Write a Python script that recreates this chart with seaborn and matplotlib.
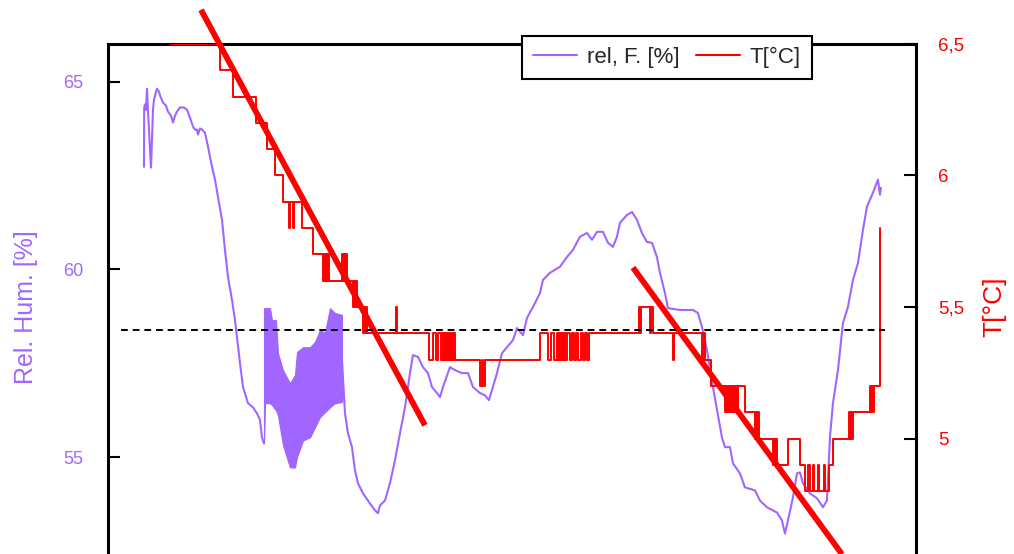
import matplotlib
matplotlib.use("Agg")
import matplotlib.pyplot as plt
from matplotlib.lines import Line2D
import seaborn as sns

# ---------------- data ----------------
# relative humidity (time in h, % RH), first stretch
hum_t_a = [3.6, 3.62, 3.7, 3.8, 3.9, 4.0, 4.1, 4.2, 4.3, 4.4, 4.5, 4.6, 4.8, 4.9,
           5.1, 5.2, 5.5, 5.8, 6.0, 6.3, 6.5, 6.7, 6.9, 7.2, 7.6, 7.9, 8.2, 8.5,
           8.7, 8.9, 9.0, 9.2, 9.4, 9.7, 10.0, 10.4, 10.7, 11.0, 11.4, 11.7, 12.0,
           12.4, 12.7, 12.9, 13.2, 13.5, 14.0, 14.5, 14.9, 15.2, 15.4, 15.6]
hum_a = [62.73, 64.31, 64.39, 64.25, 64.81, 64.2, 63.72, 63.19, 62.71, 63.45, 64.25,
         64.52, 64.73, 64.81, 64.73, 64.63, 64.44, 64.36, 64.2, 64.09, 63.91, 64.09,
         64.2, 64.31, 64.31, 64.25, 64.04, 63.8, 63.72, 63.72, 63.59, 63.75, 63.72,
         63.64, 63.27, 62.73, 62.39, 61.93, 61.32, 60.52, 59.8, 59.19, 58.65, 58.2,
         57.51, 56.87, 56.44, 56.33, 56.17, 55.99, 55.53, 55.37]

# rapidly oscillating stretch: min / max envelope
band_t = [15.6, 15.7, 16.2, 16.4, 16.8, 17.0, 17.5, 18.2, 18.7, 18.9, 19.5, 20.2,
          20.7, 21.2, 21.7, 22.2, 22.7, 23.4]
band_hi = [58.97, 58.97, 58.97, 58.65, 58.65, 57.77, 57.32, 56.97, 57.19, 57.8, 57.93,
           57.93, 58.07, 58.39, 58.31, 58.97, 58.84, 58.79]
band_lo = [55.37, 56.44, 56.44, 56.39, 56.25, 56.12, 55.32, 54.73, 54.73, 55.0, 55.45,
           55.53, 55.8, 56.07, 56.2, 56.33, 56.44, 56.47]

# relative humidity, second stretch
hum_t_b = [23.4, 23.7, 24.0, 24.4, 24.7, 25.0, 25.5, 26.2, 26.7, 27.0, 27.2, 27.7,
           28.2, 28.7, 29.2, 29.7, 30.2, 30.5, 31.0, 31.5, 32.0, 32.4, 32.9, 33.2,
           33.5, 34.2, 34.7, 35.4, 36.0, 36.5, 37.2, 37.7, 38.1, 38.4, 38.9, 39.4,
           39.9, 40.5, 40.9, 41.5, 41.9, 42.5, 43.2, 43.5, 44.2, 45.2, 45.9, 46.5,
           47.2, 47.9, 48.4, 48.9, 49.5, 50.0, 50.5, 50.9, 51.2, 51.9, 52.4, 52.9,
           53.4, 53.9, 54.4, 54.9, 55.2, 55.7, 56.0, 57.2, 58.5, 59.0, 59.4, 59.9,
           60.5, 61.0, 61.4, 61.7, 62.2, 62.5, 63.2, 63.7, 64.7, 65.2, 65.9, 66.9,
           67.4, 67.7, 68.0, 68.5, 68.9, 69.2, 69.5, 70.2, 70.9, 71.5, 71.9, 72.2,
           72.5, 73.0, 73.5, 74.0, 74.5, 75.0, 75.5, 75.9, 76.5, 77.0, 77.2, 77.3]
hum_b = [57.59, 56.17, 55.64, 55.27, 54.65, 54.31, 54.04, 53.77, 53.59, 53.51, 53.72,
         53.85, 54.31, 54.92, 55.64, 56.33, 57.24, 57.72, 57.67, 57.4, 57.24, 56.87,
         56.71, 56.6, 56.87, 57.4, 57.32, 57.24, 57.24, 56.87, 56.71, 56.65, 56.52,
         56.79, 57.24, 57.77, 57.93, 58.12, 58.44, 58.25, 58.71, 59.0, 59.37, 59.72,
         59.91, 60.07, 60.33, 60.52, 60.87, 60.97, 60.79, 61.0, 61.0, 60.71, 60.6,
         60.87, 61.24, 61.45, 61.53, 61.32, 60.97, 60.73, 60.71, 60.33, 59.91, 59.37,
         58.97, 58.92, 58.92, 58.84, 58.47, 57.85, 56.87, 56.12, 55.53, 55.27, 55.27,
         54.84, 54.57, 54.2, 54.12, 53.85, 53.67, 53.53, 53.32, 52.97, 53.32, 53.93,
         54.57, 54.6, 54.31, 54.04, 53.91, 53.67, 53.85, 55.53, 56.44, 57.32, 58.57,
         59.0, 59.72, 60.17, 61.05, 61.67, 62.04, 62.39, 61.99, 62.17]

# temperature record (0.1 K resolution), value holds until the next time stamp
temp_t = [6.2, 11.2, 12.5, 14.8, 15.9, 16.7, 17.5, 18.1, 18.2, 18.5, 18.6, 19.4, 20.5,
          21.5, 21.6, 21.7, 21.8, 21.9, 22.0, 22.1, 23.4, 23.5, 23.6, 23.7, 23.8, 23.9,
          24.5, 24.6, 24.7, 24.8, 24.9, 25.5, 25.6, 25.7, 25.8, 25.9, 28.8, 28.9,
          32.1, 32.5, 32.8, 33.0, 33.3, 33.4, 33.5, 33.6, 33.7, 33.8, 33.9, 34.0, 34.1,
          34.2, 34.3, 34.4, 34.5, 34.6, 34.7, 37.2, 37.4, 37.5, 37.7,
          43.2, 44.0, 44.3, 44.6, 44.9, 45.0, 45.1, 45.2, 45.3, 45.4, 45.5, 45.6, 45.7,
          45.8, 45.9, 46.2, 46.4, 46.6, 46.8, 47.0, 47.3, 47.5, 47.7, 47.9, 48.1,
          53.1, 53.2, 53.3, 54.2, 54.3, 54.5, 56.5, 56.6, 59.4, 59.6, 59.7, 60.3,
          61.7, 61.8, 61.9, 62.0, 62.1, 62.2, 62.3, 62.4, 62.5, 62.6, 62.7, 62.8, 62.9,
          63.0, 63.7, 64.7, 64.8, 64.9, 65.0, 65.1, 66.5, 66.6, 66.7, 66.8, 66.9, 68.0,
          69.2, 69.7, 70.0, 70.2, 70.5, 70.6, 71.0, 71.1, 71.6, 71.7, 72.1, 72.5,
          74.1, 74.2, 74.3, 74.4, 74.5, 76.2, 76.3, 76.4, 76.5, 76.6, 77.2]
temp = [6.5, 6.4, 6.3, 6.2, 6.1, 6.0, 5.9, 5.8, 5.9, 5.8, 5.9, 5.8, 5.7,
        5.6, 5.7, 5.6, 5.7, 5.6, 5.7, 5.6, 5.7, 5.6, 5.7, 5.6, 5.7, 5.6,
        5.5, 5.6, 5.5, 5.6, 5.5, 5.4, 5.5, 5.4, 5.5, 5.4, 5.5, 5.4,
        5.3, 5.4, 5.3, 5.4, 5.3, 5.4, 5.3, 5.4, 5.3, 5.4, 5.3, 5.4, 5.3,
        5.4, 5.3, 5.4, 5.3, 5.4, 5.3, 5.2, 5.3, 5.2, 5.3,
        5.4, 5.3, 5.4, 5.3, 5.4, 5.3, 5.4, 5.3, 5.4, 5.3, 5.4, 5.3, 5.4,
        5.3, 5.4, 5.3, 5.4, 5.3, 5.4, 5.3, 5.4, 5.3, 5.4, 5.3, 5.4,
        5.5, 5.4, 5.5, 5.4, 5.5, 5.4, 5.3, 5.4, 5.3, 5.4, 5.3, 5.2,
        5.1, 5.2, 5.1, 5.2, 5.1, 5.2, 5.1, 5.2, 5.1, 5.2, 5.1, 5.2, 5.1,
        5.2, 5.1, 5.0, 5.1, 5.0, 5.1, 5.0, 4.9, 5.0, 4.9, 5.0, 4.9, 5.0,
        4.9, 4.8, 4.9, 4.8, 4.9, 4.8, 4.9, 4.8, 4.9, 4.8, 4.9, 5.0,
        5.1, 5.0, 5.1, 5.0, 5.1, 5.2, 5.1, 5.2, 5.1, 5.2, 5.8]

# linear temperature trends (cool-down phases)
fit1_t = [9.3, 31.7]
fit1_T = [6.63, 5.05]
fit2_t = [52.5, 73.4]
fit2_T = [5.65, 4.56]

# reference humidity level
ref_t = [1.3, 77.7]
ref_h = [58.4, 58.4]

hum_ticks = [55, 60, 65]
temp_ticks = [5.0, 5.5, 6.0, 6.5]
temp_tick_labels = ["5", "5,5", "6", "6,5"]
legend_labels = ["rel, F. [%]", "T[°C]"]

PURPLE = "#A066FF"
RED = "#FF0000"

# ---------------- figure ----------------
sns.set_style("white")
plt.rcParams["font.family"] = ["Liberation Sans", "DejaVu Sans"]

fig = plt.figure(figsize=(10.14, 5.54), dpi=100)
ax = fig.add_axes([0.1065, -0.0289, 0.7968, 0.9495])
ax2 = ax.twinx()

# humidity
sns.lineplot(x=hum_t_a, y=hum_a, ax=ax, color=PURPLE, lw=1.5,
             estimator=None, sort=False)
ax.fill_between(band_t, band_lo, band_hi, color=PURPLE, lw=0.8)
sns.lineplot(x=hum_t_b, y=hum_b, ax=ax, color=PURPLE, lw=1.5,
             estimator=None, sort=False)

# temperature
sns.lineplot(x=temp_t, y=temp, ax=ax2, color=RED, lw=1.4,
             drawstyle="steps-post", estimator=None, sort=False)
sns.lineplot(x=fit1_t, y=fit1_T, ax=ax2, color=RED, lw=4.2,
             estimator=None, sort=False, clip_on=False, solid_capstyle="butt")
sns.lineplot(x=fit2_t, y=fit2_T, ax=ax2, color=RED, lw=4.2,
             estimator=None, sort=False, solid_capstyle="butt")

# dashed reference level in humidity units, drawn on top
ax2.plot(ref_t, ref_h, transform=ax.transData, color="black", lw=1.4,
         linestyle=(0, (3.5, 2.5)), zorder=4)

ax.set_xlim(0, 80.8)
ax.set_ylim(52, 66)
ax2.set_ylim(4.5, 6.5)

# axes styling
ax.set_xticks([])
ax.set_xlabel("")
ax.set_yticks(hum_ticks)
ax.tick_params(axis="y", direction="in", length=8.6, width=1.5, color="black",
               labelcolor=PURPLE, labelsize=13, pad=18, left=True)
ax2.set_yticks(temp_ticks)
ax2.set_yticklabels(temp_tick_labels)
ax2.tick_params(axis="y", direction="in", length=8.6, width=1.5, color="black",
                labelcolor=RED, labelsize=13.5, pad=16, right=True)

for side, sp in ax.spines.items():
    sp.set_color("black")
    sp.set_linewidth(2.2)
ax.spines["right"].set_visible(False)
for side, sp in ax2.spines.items():
    sp.set_color("black")
    sp.set_linewidth(2.2)
    sp.set_visible(side == "right")

ax.set_ylabel("Rel. Hum. [%]", color=PURPLE, fontsize=18, labelpad=18)
ax2.set_ylabel("T[°C]", color=RED, fontsize=19, labelpad=13)

handles = [Line2D([], [], color=PURPLE, lw=1.5), Line2D([], [], color=RED, lw=1.5)]
leg = ax2.legend(handles, legend_labels, loc="center",
                 bbox_to_anchor=(0.6578, 0.8962), bbox_transform=fig.transFigure,
                 ncol=2, fontsize=16, frameon=True, fancybox=False, framealpha=1,
                 edgecolor="black", borderpad=0.5, handlelength=1.95,
                 handletextpad=0.45, columnspacing=0.77)
leg.get_frame().set_linewidth(1.5)

fig.savefig("out.png", dpi=100)
